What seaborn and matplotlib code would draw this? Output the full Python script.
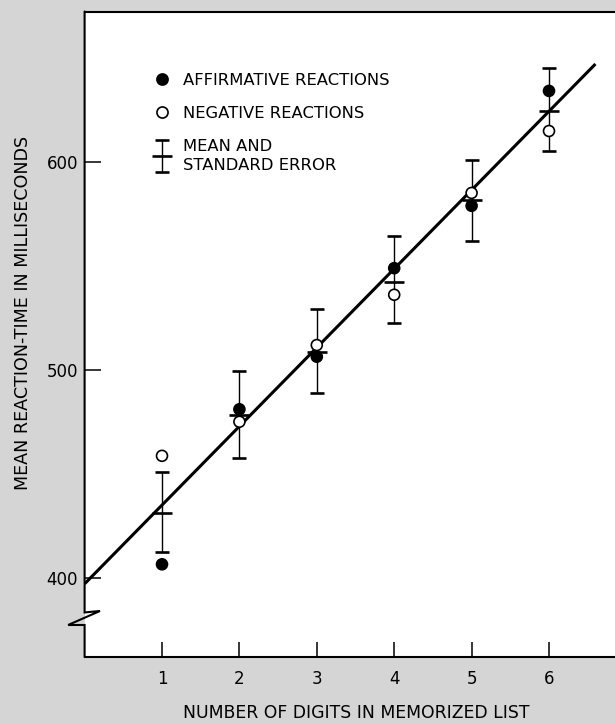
import numpy as np
import pandas as pd
import matplotlib
matplotlib.use("Agg")
import matplotlib.pyplot as plt
import seaborn as sns
from matplotlib.lines import Line2D
from matplotlib.container import ErrorbarContainer
from matplotlib.legend_handler import HandlerErrorbar

# values (ms)
set_size = [1, 2, 3, 4, 5, 6]
affirmative_rt = [406.6, 481.2, 506.5, 549.1, 579.1, 634.4]
negative_rt = [458.8, 475.2, 512.1, 536.3, 585.3, 615.1]
mean_rt = [431.5, 478.6, 508.8, 542.5, 582.0, 624.6]
se_upper = [451.0, 499.4, 529.4, 564.5, 601.1, 645.2]
se_lower = [412.6, 457.7, 489.0, 522.5, 562.0, 605.5]

# fitted line RT = a + b * s
fit_intercept = 397.2
fit_slope = 37.9
fit_span = [0.0, 6.6]

x_ticks = [1, 2, 3, 4, 5, 6]
y_ticks = [400, 500, 600]

BG = "#d5d5d5"

df = pd.DataFrame({
    "digits": set_size * 2,
    "rt": affirmative_rt + negative_rt,
    "reaction": ["Affirmative"] * 6 + ["Negative"] * 6,
})

sns.set_style("white")
plt.rcParams["font.family"] = ["DejaVu Sans"]
plt.rcParams.update({
    "text.color": "black",
    "axes.labelcolor": "black",
    "xtick.color": "black",
    "ytick.color": "black",
})

fig = plt.figure(figsize=(6.15, 7.24), dpi=100, facecolor=BG)
ax = fig.add_axes([84.6 / 615, 67 / 724, 530.4 / 615, 645.5 / 724])
ax.set_facecolor("white")

# regression line
fit_x = np.array(fit_span)
ax.plot(fit_x, fit_intercept + fit_slope * fit_x, color="black", lw=2.2,
        zorder=2, solid_capstyle="butt")

# mean and standard error
mean_arr = np.array(mean_rt)
yerr = [mean_arr - np.array(se_lower), np.array(se_upper) - mean_arr]
eb = ax.errorbar(set_size, mean_rt, yerr=yerr, fmt="_", color="black",
                 ms=14.5, mew=1.9, elinewidth=1.0, capsize=4.7,
                 capthick=1.0, zorder=3)

# affirmative / negative points
sns.scatterplot(data=df, x="digits", y="rt", hue="reaction",
                palette={"Affirmative": "black", "Negative": "white"},
                edgecolor="black", linewidth=1.2, s=62, legend=False,
                zorder=4, ax=ax)

ax.set_xlim(0, 530.4 / 77.4)
ax.set_ylim(362.0, 672.6)
ax.set_xticks(x_ticks)
ax.set_yticks(y_ticks)
ax.tick_params(axis="both", direction="in", width=1.1, color="black",
               labelsize=12, labelcolor="black", bottom=True, left=True,
               top=False, right=False)
ax.tick_params(axis="x", length=10.8, pad=9.0)
ax.tick_params(axis="y", length=11.5, pad=4.6)

for side in ["right", "left"]:
    ax.spines[side].set_visible(False)
for side in ["top", "bottom"]:
    ax.spines[side].set_linewidth(1.5)
    ax.spines[side].set_color("black")

# left axis with the break mark
ax.add_line(Line2D([0, 0, 0.029, -0.031, 0, 0],
                   [1, 0.0690, 0.0713, 0.0496, 0.0496, 0],
                   transform=ax.transAxes, color="black", lw=1.5,
                   clip_on=False, solid_joinstyle="miter"))

ax.set_xlabel("NUMBER OF DIGITS IN MEMORIZED LIST", fontsize=12.4)
ax.set_ylabel("MEAN REACTION-TIME IN MILLISECONDS", fontsize=12.6)
ax.xaxis.set_label_coords(0.5117, -0.0866)
ax.xaxis.label.set_va("center")
ax.yaxis.set_label_coords(-0.1167, 0.5337)
ax.yaxis.label.set_va("center")

handles = [
    Line2D([], [], marker="o", ls="none", mfc="black", mec="black",
           ms=8, mew=1.2),
    Line2D([], [], marker="o", ls="none", mfc="white", mec="black",
           ms=8, mew=1.2),
    eb,
]
labels = ["AFFIRMATIVE REACTIONS", "NEGATIVE REACTIONS",
          "MEAN AND\nSTANDARD ERROR"]
leg = ax.legend(handles, labels, loc="upper left",
                bbox_to_anchor=(0.132, 0.905), frameon=False,
                fontsize=11.8, borderpad=0, borderaxespad=0,
                handlelength=0.89, handletextpad=0.84, labelspacing=1.1,
                numpoints=1,
                handler_map={ErrorbarContainer: HandlerErrorbar(yerr_size=1.0)})
leg.get_texts()[2].set_linespacing(1.31)

fig.savefig("out.png", dpi=100, facecolor=BG)
